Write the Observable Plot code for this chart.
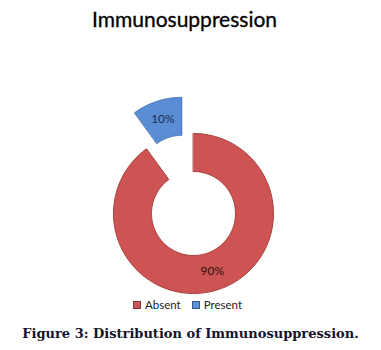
<!DOCTYPE html>
<html><head><meta charset="utf-8">
<script src="https://cdn.jsdelivr.net/npm/d3@7"></script>
<script src="https://cdn.jsdelivr.net/npm/@observablehq/plot@0.6"></script>
<style>
html,body{margin:0;padding:0;background:#fff;width:381px;height:350px;overflow:hidden;}
#wrap{position:relative;width:381px;height:350px;}
#title{position:absolute;left:0;top:6px;width:369px;text-align:center;font:21px Lato, sans-serif;color:#000;-webkit-text-stroke:0.3px #000;}
#chart{position:absolute;left:0;top:40px;}
#legend{position:absolute;top:298px;left:133px;display:flex;align-items:center;font:11.5px Lato, sans-serif;color:#222;white-space:nowrap;}
#legend .item{display:flex;align-items:center;margin-right:11px;}
#legend .sw{width:6px;height:6px;margin-right:4px;border:0.5px solid rgba(0,0,0,0.35);}
#caption{position:absolute;left:0;top:326px;width:381px;text-align:center;font:bold 13px "DejaVu Serif", serif;color:#14142c;white-space:nowrap;}
</style></head>
<body><div id="wrap">
<div id="title">Immunosuppression</div>
<div id="chart"></div>
<div id="legend"></div>
<div id="caption">Figure 3: Distribution of Immunosuppression.</div>
</div>
<script>
const categories = ["Absent", "Present"];
const values = [90, 10];
const labels = ["90%", "10%"];
const colors = ["#CD5452", "#5A8ED4"];
const edgeColors = ["#A9403E", "#3F6DB0"];
const explode = [0, 0.475];
const innerRatio = 0.525;

const cx = 193, cy = 173, R = 80;
const pie = d3.pie().sort(null).value(d => d)(values);

const pts = [];
const labelPts = [];
pie.forEach((p, i) => {
  const a0 = p.startAngle, a1 = p.endAngle, mid = (a0 + a1) / 2;
  const ox = explode[i] * Math.sin(mid), oy = explode[i] * Math.cos(mid);
  const N = 120;
  for (let t = 0; t <= N; t++) {
    const a = a0 + (a1 - a0) * t / N;
    pts.push({cat: categories[i], x: ox + Math.sin(a), y: oy + Math.cos(a)});
  }
  for (let t = N; t >= 0; t--) {
    const a = a0 + (a1 - a0) * t / N;
    pts.push({cat: categories[i], x: ox + innerRatio * Math.sin(a), y: oy + innerRatio * Math.cos(a)});
  }
  const rm = (1 + innerRatio) / 2;
  labelPts.push({cat: categories[i], label: labels[i], x: ox + rm * Math.sin(mid), y: oy + rm * Math.cos(mid)});
});

const chart = Plot.plot({
  width: 381, height: 260, margin: 0,
  style: {background: "transparent", overflow: "visible"},
  x: {domain: [-1, 1], range: [cx - R, cx + R], axis: null},
  y: {domain: [-1, 1], range: [cy + R, cy - R], axis: null},
  color: {domain: categories, range: colors},
  marks: [
    Plot.line(pts, {x: "x", y: "y", z: "cat", fill: "cat", stroke: d => edgeColors[categories.indexOf(d.cat)], strokeWidth: 1, curve: "linear-closed"}),
    Plot.text(labelPts, {x: "x", y: "y", text: "label", fill: d => d.cat === "Present" ? "#1b2b4f" : "#2a1010", fontSize: 12, fontFamily: "Lato, sans-serif"})
  ]
});
document.getElementById("chart").appendChild(chart);

const legend = document.getElementById("legend");
categories.forEach((c, i) => {
  const item = document.createElement("div");
  item.className = "item";
  const sw = document.createElement("div");
  sw.className = "sw";
  sw.style.background = colors[i];
  item.appendChild(sw);
  const tx = document.createElement("span");
  tx.textContent = c;
  item.appendChild(tx);
  legend.appendChild(item);
});
</script>
</body></html>
